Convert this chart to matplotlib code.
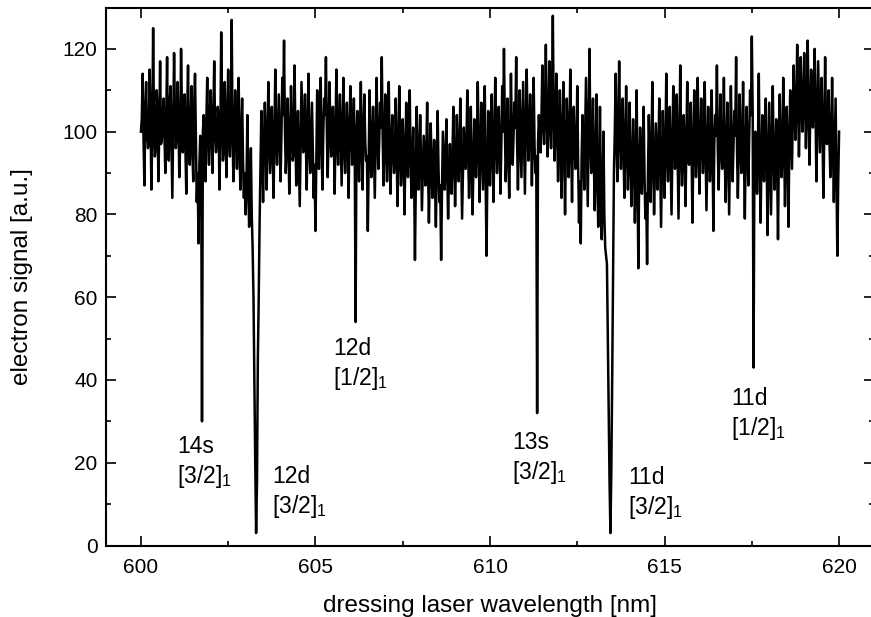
import numpy as np
import matplotlib
matplotlib.use('Agg')
import matplotlib.pyplot as plt
from matplotlib.ticker import MultipleLocator

plt.rcParams['font.family'] = ['Liberation Sans', 'DejaVu Sans']
plt.rcParams['mathtext.fontset'] = 'custom'
plt.rcParams['mathtext.rm'] = 'Liberation Sans'
plt.rcParams['mathtext.it'] = 'Liberation Sans:italic'

# electron signal, one value every 0.05 nm from 600 to 620 nm
signal = [
    100, 114, 87, 112, 96, 115, 86, 125, 94, 110, 88, 117, 98, 108, 90, 118, 93, 111, 84, 119,   # 600
    96, 112, 89, 120, 95, 109, 85, 116, 92, 111, 88, 114, 83, 73, 99, 30, 104, 88, 113, 92,      # 601
    110, 90, 117, 95, 106, 86, 124, 93, 112, 89, 115, 94, 127, 88, 110, 91, 113, 86, 108, 84,    # 602
    80, 104, 77, 96, 72, 40, 3, 45, 78, 105, 83, 107, 86, 112, 90, 106, 84, 115, 92, 109,        # 603
    88, 113, 122, 90, 108, 85, 111, 93, 116, 87, 105, 82, 112, 95, 109, 86, 114, 90, 107, 84,    # 604
    76, 110, 91, 113, 86, 108, 118, 89, 112, 94, 106, 85, 115, 92, 109, 87, 113, 90, 107, 84,    # 605
    111, 92, 108, 54, 105, 88, 112, 86, 109, 93, 76, 110, 89, 106, 84, 113, 91, 107, 118, 87,    # 606
    109, 88, 112, 85, 104, 90, 108, 82, 111, 87, 103, 80, 107, 89, 110, 84, 101, 69, 106, 86,    # 607
    104, 81, 99, 87, 107, 78, 102, 84, 98, 77, 105, 83, 69, 100, 86, 103, 79, 97, 85, 106,       # 608
    82, 104, 88, 108, 79, 101, 91, 110, 84, 106, 80, 103, 89, 112, 83, 107, 86, 111, 70, 105,    # 609
    87, 109, 83, 113, 90, 106, 85, 111, 120, 88, 108, 84, 114, 92, 107, 118, 86, 110, 89, 112,   # 610
    85, 115, 93, 109, 87, 113, 90, 32, 104, 95, 116, 97, 121, 94, 117, 96, 128, 93, 114, 88,     # 611
    110, 84, 112, 80, 108, 89, 115, 83, 106, 91, 111, 78, 73, 104, 86, 113, 82, 120, 90, 108,    # 612
    81, 109, 77, 106, 74, 100, 72, 68, 30, 3, 40, 90, 114, 88, 117, 91, 108, 84, 111, 86,        # 613
    107, 82, 103, 78, 110, 67, 101, 85, 106, 79, 68, 104, 83, 112, 80, 102, 86, 108, 77, 105,    # 614
    84, 114, 88, 106, 80, 111, 91, 109, 79, 116, 87, 104, 82, 112, 92, 107, 78, 110, 89, 113,    # 615
    85, 108, 90, 112, 81, 106, 88, 110, 76, 104, 116, 86, 109, 91, 113, 83, 107, 80, 111, 88,    # 616
    105, 118, 84, 109, 90, 112, 79, 106, 87, 110, 123, 43, 100, 85, 114, 78, 104, 88, 108, 75,   # 617
    107, 80, 111, 86, 103, 74, 109, 89, 113, 82, 106, 77, 110, 91, 116, 98, 121, 94, 118, 100,   # 618
    119, 96, 122, 92, 115, 101, 120, 88, 117, 95, 113, 84, 118, 97, 110, 89, 113, 83, 108, 70,   # 619
    100,
]

# in-between samples (600.025, 600.075, ... nm), mostly inside the dense core of the trace
signal_mid = [
    103, 98, 105, 100, 97, 104, 99, 102, 96, 106, 100, 97, 104, 99, 103, 95, 107, 98, 101, 104,  # 600
    99, 103, 97, 105, 100, 96, 104, 98, 102, 95, 106, 99, 90, 92, 98, 100, 97, 103, 99, 104,     # 601
    98, 104, 100, 97, 103, 99, 105, 96, 101, 104, 98, 102, 100, 97, 103, 99, 95, 100, 93, 90,    # 602
    88, 87, 84, 80, 60, 20, 15, 60, 92, 95, 97, 99, 96, 101, 98, 94, 100, 97, 101, 98,           # 603
    99, 104, 101, 96, 99, 97, 102, 95, 100, 98, 93, 97, 103, 99, 97, 101, 96, 98, 95, 92,        # 604
    94, 99, 102, 97, 100, 104, 101, 98, 103, 96, 99, 100, 97, 102, 98, 100, 96, 99, 97, 100,     # 605
    101, 99, 96, 98, 97, 99, 96, 100, 98, 94, 93, 97, 99, 95, 98, 100, 97, 101, 99, 97,          # 606
    96, 98, 94, 97, 95, 93, 96, 94, 97, 92, 95, 93, 96, 98, 94, 92, 90, 88, 95, 93,              # 607
    92, 90, 93, 95, 91, 89, 94, 90, 88, 92, 91, 87, 86, 93, 92, 90, 89, 91, 94, 93,              # 608
    92, 95, 96, 93, 90, 95, 97, 94, 93, 92, 91, 95, 97, 96, 94, 96, 98, 89, 90, 94,              # 609
    97, 95, 99, 98, 96, 95, 97, 100, 102, 96, 95, 98, 100, 99, 101, 98, 97, 99, 101, 98,         # 610
    100, 103, 98, 101, 99, 97, 94, 97, 99, 104, 102, 106, 103, 101, 105, 107, 104, 102, 100, 98, # 611
    97, 99, 95, 97, 100, 98, 96, 99, 97, 95, 92, 88, 94, 96, 99, 97, 100, 98, 96, 93,            # 612
    92, 90, 88, 86, 85, 80, 70, 50, 15, 18, 65, 100, 98, 101, 99, 97, 95, 98, 96, 94,            # 613
    93, 91, 94, 89, 88, 92, 95, 93, 90, 85, 90, 94, 95, 93, 91, 94, 96, 92, 91, 93,              # 614
    97, 94, 96, 93, 95, 98, 96, 94, 97, 95, 93, 96, 98, 95, 97, 94, 96, 98, 95, 97,              # 615
    96, 98, 95, 97, 94, 96, 93, 95, 97, 99, 96, 98, 95, 97, 94, 96, 93, 95, 97, 96,              # 616
    99, 96, 95, 98, 97, 94, 96, 95, 98, 104, 104, 95, 94, 96, 93, 92, 95, 97, 94, 92,            # 617
    94, 96, 95, 93, 92, 95, 97, 94, 96, 93, 95, 98, 100, 103, 105, 106, 107, 105, 108, 106,      # 618
    107, 105, 108, 104, 106, 109, 105, 103, 106, 104, 100, 99, 101, 98, 97, 99, 96, 95, 90, 88,  # 619
]

trace = np.empty(len(signal) + len(signal_mid))
trace[0::2] = signal
trace[1::2] = signal_mid
wavelength = np.linspace(600, 620, len(trace))

# resonance labels
line_names = ['14s', '12d', '12d', '13s', '11d', '11d']
line_terms = ['[3/2]', '[3/2]', '[1/2]', '[3/2]', '[3/2]', '[1/2]']

fig = plt.figure(figsize=(8.71, 6.17), dpi=100)
ax = fig.add_axes([106 / 871, 71.5 / 617, 768 / 871, 538 / 617])

ax.plot(wavelength, trace, color='black', lw=1.8)

ax.set_xlim(599, 621)
ax.set_ylim(0, 130)
ax.xaxis.set_major_locator(MultipleLocator(5))
ax.xaxis.set_minor_locator(MultipleLocator(2.5))
ax.yaxis.set_major_locator(MultipleLocator(20))
ax.yaxis.set_minor_locator(MultipleLocator(10))
ax.tick_params(which='both', direction='in', top=True, right=True, width=1.2)
ax.tick_params(which='major', length=7)
ax.tick_params(which='minor', length=3.5)
ax.tick_params(axis='x', labelsize=15, pad=9)
ax.tick_params(axis='y', labelsize=15, pad=6)
for s in ax.spines.values():
    s.set_linewidth(1.5)

ax.set_xlabel('dressing laser wavelength [nm]', fontsize=17.5, labelpad=13)
ax.set_ylabel('electron signal [a.u.]', fontsize=17.5, labelpad=21)

# text anchor (left, top) of each label in data units
label_pos = [(601.03, 26.6), (603.75, 19.4), (605.5, 50.3),
             (610.63, 27.6), (613.95, 19.1), (616.9, 38.2)]
for name, term, (x, y) in zip(line_names, line_terms, label_pos):
    ax.text(x, y, name + '\n' + term + '$_1$', ha='left', va='top',
            fontsize=16.5, linespacing=1.25)

fig.savefig('out.png', dpi=100)
